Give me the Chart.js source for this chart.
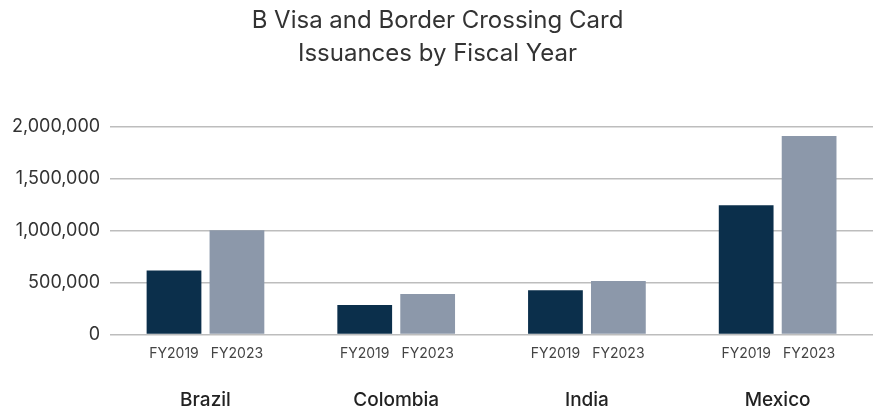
<!DOCTYPE html>
<html>
<head>
<meta charset="utf-8">
<title>B Visa and Border Crossing Card Issuances</title>
<script src="https://cdn.jsdelivr.net/npm/chart.js@4.4.1/dist/chart.umd.min.js"></script>
<style>
  html, body { margin: 0; padding: 0; background: #fff; overflow: hidden; }
  canvas { display: block; }
</style>
</head>
<body>
<canvas id="myChart" width="873" height="412"></canvas>
<script>
// data
const categories = ['Brazil', 'Colombia', 'India', 'Mexico'];
const seriesNames = ['FY2019', 'FY2023'];
const fy2019 = [617000, 286000, 426000, 1244000];
const fy2023 = [1005000, 391000, 515000, 1912000];
const yMin = 0, yMax = 2000000, yStep = 500000;

const FONT = 'Inter, "Noto Sans", sans-serif';

// writes the series name under each bar
const barNames = {
    id: 'barNames',
    afterDatasetsDraw(chart) {
        const ctx = chart.ctx, xs = chart.scales.x;
        ctx.save();
        ctx.font = '14px ' + FONT;
        ctx.fillStyle = '#444';
        ctx.textAlign = 'center';
        ctx.textBaseline = 'middle';
        chart.data.datasets.forEach(function (ds, i) {
            chart.getDatasetMeta(i).data.forEach(function (bar) {
                ctx.fillText(ds.label, bar.x, xs.top + 19);
            });
        });
        ctx.restore();
    }
};

new Chart(document.getElementById('myChart'), {
    type: 'bar',
    plugins: [barNames],
    data: {
        // two empty lines leave room for the FY names under the bars
        labels: categories.map(c => ['', '', c]),
        datasets: [
            {label: seriesNames[0], data: fy2019, backgroundColor: '#0b2f4b'},
            {label: seriesNames[1], data: fy2023, backgroundColor: '#8c98aa'}
        ]
    },
    options: {
        responsive: false,
        animation: false,
        categoryPercentage: 0.66,
        barPercentage: 0.87,
        layout: {padding: {left: 2, right: 0, top: 0, bottom: -9}},
        plugins: {
            legend: {display: false},
            tooltip: {enabled: false},
            title: {
                display: true,
                text: ['B Visa and Border Crossing Card', 'Issuances by Fiscal Year'],
                color: '#333',
                font: {family: FONT, size: 24, weight: 'normal', lineHeight: 1.35},
                padding: {top: 5, bottom: 57}
            }
        },
        scales: {
            x: {
                grid: {display: false, drawTicks: false},
                border: {display: false},
                ticks: {
                    color: '#222',
                    font: {family: FONT, size: 19, weight: '500', lineHeight: 1.2},
                    padding: 9
                }
            },
            y: {
                min: yMin,
                max: yMax,
                border: {display: false},
                grid: {color: '#bdbdbd', lineWidth: 1.5, drawTicks: false},
                ticks: {
                    stepSize: yStep,
                    color: '#333',
                    padding: 10,
                    font: {family: FONT, size: 18},
                    callback: function (v) { return v.toLocaleString('en-US'); }
                }
            }
        }
    }
});
</script>
</body>
</html>
